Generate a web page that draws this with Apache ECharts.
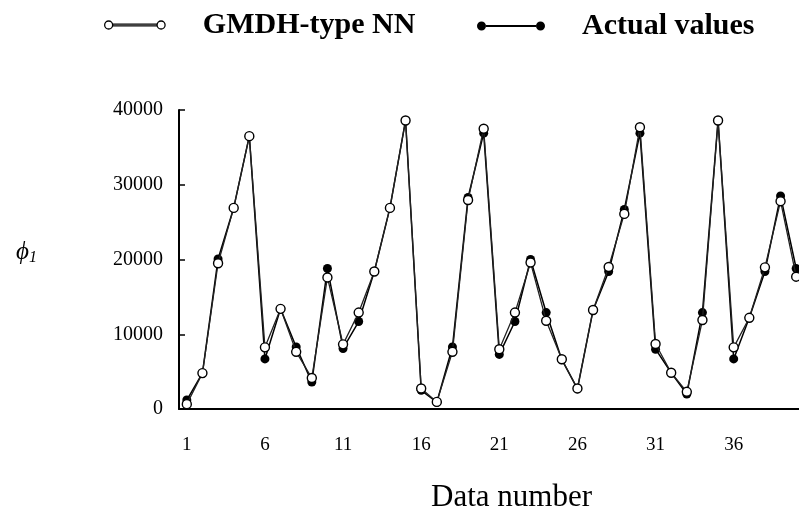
<!DOCTYPE html>
<html>
<head>
<meta charset="utf-8">
<script src="https://cdn.jsdelivr.net/npm/echarts@6/dist/echarts.min.js"></script>
<style>
html,body{margin:0;padding:0;background:#fff;}
#chart{width:799px;height:509px;}
</style>
</head>
<body>
<div id="chart"></div>
<script>
var categories = [];
for (var i = 1; i <= 40; i++) categories.push(String(i));

var actualValues = [1200, 4800, 20070, 26900, 36500, 6700, 13400, 8300, 3600, 18800,
  8100, 11700, 18400, 26900, 38600, 2500, 900, 8300, 28300, 36900,
  7300, 11700, 20000, 12900, 6600, 2700, 13200, 18400, 26700, 36900,
  8000, 4850, 2000, 12900, 38600, 6700, 12200, 18400, 28500, 18800];

var gmdhValues = [650, 4800, 19500, 26900, 36500, 8250, 13400, 7650, 4150, 17600,
  8650, 12900, 18400, 26900, 38600, 2750, 950, 7650, 27950, 37500,
  8000, 12900, 19600, 11800, 6650, 2750, 13250, 19000, 26100, 37700,
  8700, 4850, 2300, 11900, 38600, 8250, 12200, 18950, 27800, 17700];

var yMin = 0, yMax = 40000, yInterval = 10000;

var FONT = 'Liberation Serif';
var iconPath = 'path://M0,4.5A4.5,4.5,0,1,1,9,4.5A4.5,4.5,0,1,1,0,4.5Z M9,3.6L59,3.6L59,5.4L9,5.4Z M59,4.5A4.5,4.5,0,1,1,68,4.5A4.5,4.5,0,1,1,59,4.5Z';

var chart = echarts.init(document.getElementById('chart'), null, {renderer: 'canvas'});
chart.setOption({
  animation: false,
  backgroundColor: '#fff',
  legend: [{
    data: [{name: 'GMDH-type NN', icon: iconPath,
      itemStyle: {color: '#fff', borderColor: '#000', borderWidth: 1.3}}],
    left: 104, top: 10, padding: 0,
    itemWidth: 68, itemHeight: 8,
    textStyle: {fontFamily: FONT, fontWeight: 'bold', fontSize: 30, color: '#000', padding: [0, 0, 0, 29]}
  }, {
    data: [{name: 'Actual values', icon: iconPath,
      itemStyle: {color: '#000', borderColor: '#000', borderWidth: 0}}],
    left: 477, top: 11, padding: 0,
    itemWidth: 68, itemHeight: 9,
    textStyle: {fontFamily: FONT, fontWeight: 'bold', fontSize: 30, color: '#000', padding: [0, 0, 0, 32]}
  }],
  grid: {left: 179, top: 110, width: 625, height: 299, containLabel: false, outerBoundsMode: 'none'},
  xAxis: {
    type: 'category',
    data: categories,
    boundaryGap: true,
    name: 'Data number',
    nameLocation: 'middle',
    nameGap: 73,
    nameTextStyle: {fontFamily: FONT, fontSize: 31, color: '#000', padding: [0, 0, 0, 40]},
    axisLine: {lineStyle: {color: '#000', width: 2}},
    axisTick: {inside: true, length: 5, interval: 0, lineStyle: {color: '#000', width: 1.5}},
    axisLabel: {interval: 4, margin: 27, fontFamily: FONT, fontSize: 19, color: '#000'},
    splitLine: {show: false}
  },
  yAxis: {
    type: 'value',
    min: yMin, max: yMax, interval: yInterval,
    name: '{a|ϕ}{b|1}',
    nameLocation: 'middle',
    nameRotate: 0,
    nameGap: 142,
    nameTextStyle: {
      padding: [0, 0, 14, 0],
      rich: {
        a: {fontFamily: FONT, fontStyle: 'italic', fontSize: 25, color: '#000'},
        b: {fontFamily: FONT, fontStyle: 'italic', fontSize: 16, color: '#000', padding: [10, 0, 0, 0]}
      }
    },
    axisLine: {show: true, lineStyle: {color: '#000', width: 2}},
    axisTick: {show: true, inside: true, length: 6, lineStyle: {color: '#000', width: 1.5}},
    axisLabel: {margin: 16, fontFamily: FONT, fontSize: 20, color: '#000',
      formatter: function (v) { return String(v); }},
    splitLine: {show: false}
  },
  series: [{
    name: 'Actual values',
    type: 'line',
    data: actualValues,
    symbol: 'circle',
    symbolSize: 9,
    showAllSymbol: true,
    itemStyle: {color: '#000'},
    lineStyle: {color: '#000', width: 1.5},
    z: 2
  }, {
    name: 'GMDH-type NN',
    type: 'line',
    data: gmdhValues,
    symbol: 'circle',
    symbolSize: 9,
    showAllSymbol: true,
    itemStyle: {color: '#fff', borderColor: '#000', borderWidth: 1.4},
    lineStyle: {color: '#222', width: 1.3},
    z: 3
  }]
});
</script>
</body>
</html>
